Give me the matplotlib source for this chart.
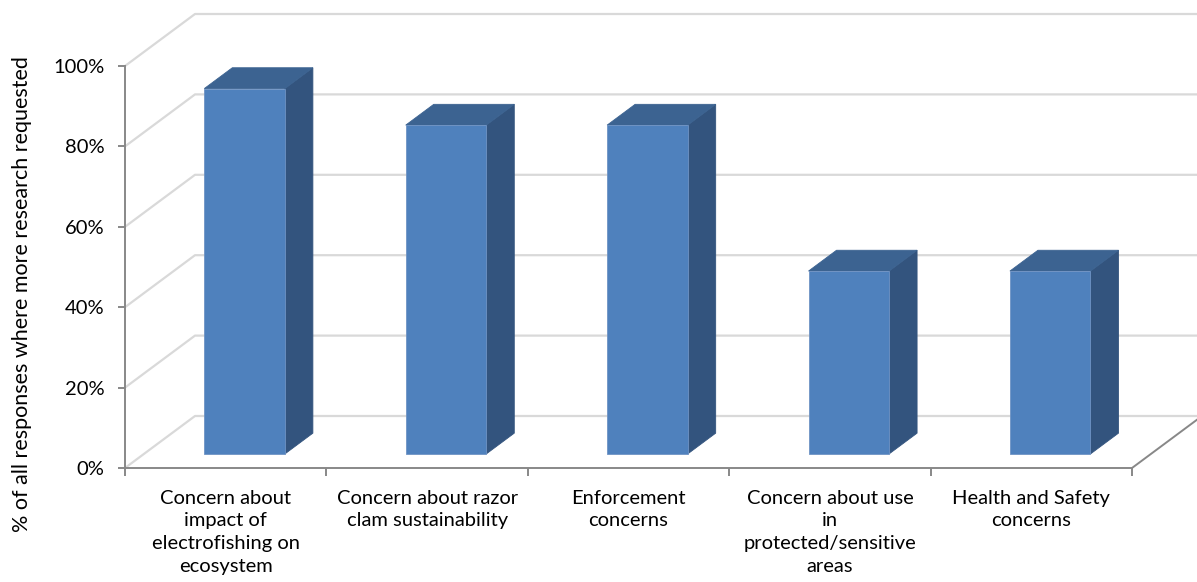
import matplotlib
matplotlib.use("Agg")
import matplotlib.pyplot as plt
from matplotlib.patches import Polygon
from matplotlib.transforms import IdentityTransform
import numpy as np

categories = [
    "Concern about\nimpact of\nelectrofishing on\necosystem",
    "Concern about razor\nclam sustainability",
    "Enforcement\nconcerns",
    "Concern about use\nin\nprotected/sensitive\nareas",
    "Health and Safety\nconcerns",
]
values = [90.9, 81.8, 81.8, 45.5, 45.5]
y_ticks = [0, 20, 40, 60, 80, 100]
y_tick_labels = ["0%", "20%", "40%", "60%", "80%", "100%"]
y_label = "% of all responses where more research requested"

FRONT = "#4F81BD"
SIDE = "#33547E"
TOP = "#3C6391"
EDGE = "#6F93C4"
GRID = "#D9D9D9"
AXIS = "#888888"

plt.rcParams["font.family"] = ["Lato", "DejaVu Sans"]

W, H = 1197, 582
DPI = 100
fig = plt.figure(figsize=(W / DPI, H / DPI), dpi=DPI)
ax = fig.add_axes([125 / W, (H - 468) / H, (1132 - 125) / W, (468 - 66) / H])
ax.set_xlim(0, len(categories))
ax.set_ylim(0, 100)
ax.patch.set_visible(False)

# depth direction of the oblique projection, in pixels for a full unit of depth
DX, DY = 70.0, 52.0


def proj(x, y, d):
    px, py = ax.transData.transform((x, y))
    return (px + DX * d, py + DY * d)


def line3d(pts, color, lw, z):
    xy = np.array([proj(*p) for p in pts])
    ax.add_line(plt.Line2D(xy[:, 0], xy[:, 1], transform=IdentityTransform(),
                           color=color, lw=lw, zorder=z, clip_on=False,
                           solid_capstyle="butt"))


n = len(categories)
# walls: side-wall diagonals and back-wall gridlines
for v in y_ticks:
    line3d([(0, v, 0), (0, v, 1), (n, v, 1)], GRID, 1.6, 1)

# floor edges
line3d([(n, 0, 0), (n, 0, 1)], AXIS, 1.4, 2)

# bars
bw = 0.4
d0, d1 = 0.27, 0.67
for i, v in enumerate(values):
    x0, x1 = i + 0.5 - bw / 2, i + 0.5 + bw / 2
    front = [proj(x0, 0, d0), proj(x1, 0, d0), proj(x1, v, d0), proj(x0, v, d0)]
    side = [proj(x1, 0, d0), proj(x1, 0, d1), proj(x1, v, d1), proj(x1, v, d0)]
    top = [proj(x0, v, d0), proj(x1, v, d0), proj(x1, v, d1), proj(x0, v, d1)]
    for poly, col in ((side, SIDE), (top, TOP), (front, FRONT)):
        ax.add_patch(Polygon(poly, closed=True, transform=IdentityTransform(),
                             facecolor=col, edgecolor=EDGE if col == FRONT else col,
                             lw=0.6, zorder=5, clip_on=False))

# axes styling
for s in ("top", "right"):
    ax.spines[s].set_visible(False)
for s in ("left", "bottom"):
    ax.spines[s].set_color(AXIS)
    ax.spines[s].set_linewidth(1.4)
    ax.spines[s].set_zorder(3)

ax.set_yticks(y_ticks)
ax.set_yticklabels(y_tick_labels)
ax.tick_params(axis="y", direction="out", length=5, width=1.4, color=AXIS,
               pad=10, labelsize=14.5, labelcolor="#000000")

ax.set_xticks(range(n + 1))
ax.set_xticklabels([""] * (n + 1))
ax.tick_params(axis="x", which="major", direction="out", length=6, width=1.4,
               color=AXIS)
ax.set_xticks([i + 0.5 for i in range(n)], minor=True)
ax.set_xticklabels(categories, minor=True, fontsize=14.5, linespacing=1.42)
ax.tick_params(axis="x", which="minor", length=0, pad=15.5, labelcolor="#000000")

fig.text(22 / W, 1 - 294 / H, y_label, rotation=90, ha="center", va="center",
         fontsize=15.5, color="#000000")

fig.savefig("out.png", dpi=DPI, facecolor="white")
